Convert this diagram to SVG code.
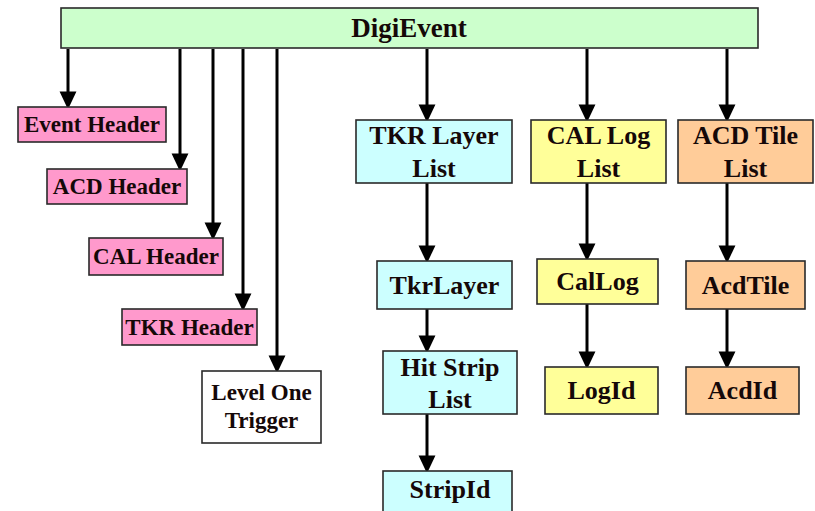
<svg xmlns="http://www.w3.org/2000/svg" width="815" height="511" viewBox="0 0 815 511">
<style>
.box{stroke:#2a2a2a;stroke-width:1.6}
.g{fill:#ccffcc}.p{fill:#ff99cc}.w{fill:#ffffff}.c{fill:#ccffff}.y{fill:#ffff99}.o{fill:#ffcc99}
text{font-family:'Liberation Serif','Times New Roman',serif;font-weight:bold;fill:#150808;text-anchor:middle}
.s{font-size:23px}.m{font-size:26px}.l{font-size:27px}
.ln{stroke:#000;stroke-width:3;fill:none;marker-end:url(#ah)}
</style>
<defs>
<marker id="ah" markerUnits="userSpaceOnUse" markerWidth="18" markerHeight="18" refX="5" refY="7.5" orient="auto" viewBox="0 0 16 15">
<path d="M0,0 L16,7.5 L0,15 Z" fill="#000"/>
</marker>
</defs>
<rect width="815" height="511" fill="#fff"/>
<g id="connectors">
<line class="ln" x1="68" y1="49" x2="68" y2="97"/>
<line class="ln" x1="180" y1="49" x2="180" y2="159"/>
<line class="ln" x1="213" y1="49" x2="213" y2="228"/>
<line class="ln" x1="243" y1="49" x2="243" y2="299"/>
<line class="ln" x1="277" y1="49" x2="277" y2="361"/>
<line class="ln" x1="427" y1="49" x2="427" y2="110"/>
<line class="ln" x1="587" y1="49" x2="587" y2="110"/>
<line class="ln" x1="727" y1="49" x2="727" y2="110"/>
<line class="ln" x1="427" y1="183" x2="427" y2="251"/>
<line class="ln" x1="587" y1="183" x2="587" y2="249"/>
<line class="ln" x1="727" y1="183" x2="727" y2="251"/>
<line class="ln" x1="427" y1="309" x2="427" y2="341"/>
<line class="ln" x1="587" y1="304" x2="587" y2="357"/>
<line class="ln" x1="727" y1="309" x2="727" y2="357"/>
<line class="ln" x1="427" y1="414" x2="427" y2="461"/>
</g>
<g id="nodes">
<g id="digievent"><rect class="box g" x="61" y="8" width="697" height="40"/><text class="l" x="409" y="37">DigiEvent</text></g>
<g id="event-header"><rect class="box p" x="18" y="107" width="148" height="35"/><text class="s" x="92" y="132">Event Header</text></g>
<g id="acd-header"><rect class="box p" x="47" y="169" width="140" height="35"/><text class="s" x="117" y="194">ACD Header</text></g>
<g id="cal-header"><rect class="box p" x="89" y="238" width="134" height="37"/><text class="s" x="156" y="264">CAL Header</text></g>
<g id="tkr-header"><rect class="box p" x="122" y="309" width="135" height="36"/><text class="s" x="189.5" y="335">TKR Header</text></g>
<g id="level-one-trigger"><rect class="box w" x="202" y="371" width="119" height="72"/><text class="s" x="261.5" y="400">Level One</text><text class="s" x="261.5" y="428">Trigger</text></g>
<g id="tkr-layer-list"><rect class="box c" x="356" y="120" width="156" height="63"/><text class="m" x="434" y="144">TKR Layer</text><text class="m" x="434" y="177">List</text></g>
<g id="cal-log-list"><rect class="box y" x="531" y="120" width="135" height="63"/><text class="m" x="598.5" y="144">CAL Log</text><text class="m" x="598.5" y="177">List</text></g>
<g id="acd-tile-list"><rect class="box o" x="678" y="120" width="135" height="63"/><text class="m" x="745.5" y="144">ACD Tile</text><text class="m" x="745.5" y="177">List</text></g>
<g id="tkrlayer"><rect class="box c" x="377" y="261" width="135" height="48"/><text class="m" x="444.5" y="294">TkrLayer</text></g>
<g id="callog"><rect class="box y" x="537" y="259" width="121" height="45"/><text class="m" x="597.5" y="290">CalLog</text></g>
<g id="acdtile"><rect class="box o" x="686" y="261" width="119" height="48"/><text class="m" x="745.5" y="294">AcdTile</text></g>
<g id="hit-strip-list"><rect class="box c" x="383" y="351" width="134" height="63"/><text class="m" x="450" y="376">Hit Strip</text><text class="m" x="450" y="408">List</text></g>
<g id="logid"><rect class="box y" x="545" y="367" width="113" height="47"/><text class="m" x="601.5" y="399">LogId</text></g>
<g id="acdid"><rect class="box o" x="686" y="367" width="113" height="47"/><text class="m" x="742.5" y="399">AcdId</text></g>
<g id="stripid"><rect class="box c" x="383" y="471" width="129" height="44"/><text class="m" x="450" y="498">StripId</text></g>
</g>
</svg>
